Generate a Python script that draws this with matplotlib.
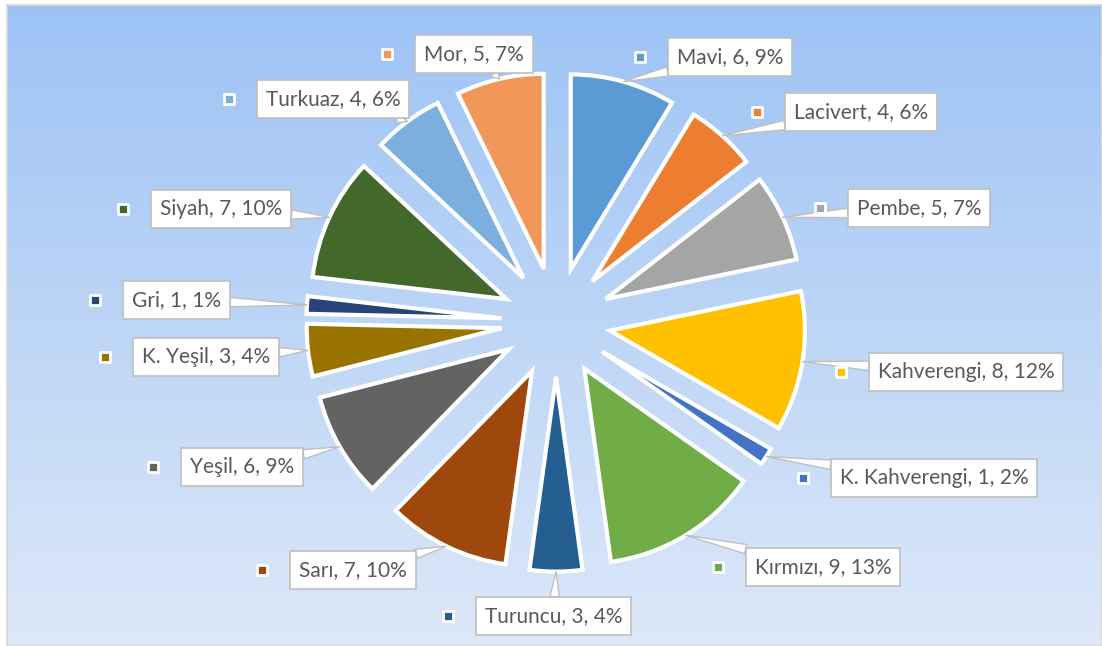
import numpy as np
import matplotlib.pyplot as plt
from matplotlib.patches import Rectangle

plt.rcParams['font.family'] = ['Lato', 'DejaVu Sans']

# Veriler
renkler = ["Mavi", "Lacivert", "Pembe", "Kahverengi", "K. Kahverengi", "Kırmızı",
           "Turuncu", "Sarı", "Yeşil", "K. Yeşil", "Gri", "Siyah", "Turkuaz", "Mor"]
degerler = [6, 4, 5, 8, 1, 9, 3, 7, 6, 3, 1, 7, 4, 5]
yuzdeler = [9, 6, 7, 12, 2, 13, 4, 10, 9, 4, 1, 10, 6, 7]
dilim_renkleri = ["#5B9BD5", "#ED7D31", "#A5A5A5", "#FFC000", "#4472C4", "#70AD47",
                  "#255E91", "#9E480E", "#636363", "#997300", "#264478", "#43682B",
                  "#7CAFDD", "#F1975A"]

# Etiket anahtar kare konumlari (piksel, sol-ust koseden)
etiket_yerleri = [(640, 57), (757, 112), (820, 208), (841, 372), (803, 478),
                  (718, 567), (448, 616), (262, 570), (153, 467), (105, 357),
                  (95, 300), (123, 209), (229, 99), (387, 54)]

W, H = 1102, 646
fig = plt.figure(figsize=(W / 100, H / 100), dpi=100)
ax = fig.add_axes([0, 0, 1, 1])

# Arka plan gradyani
ust = np.array([157, 195, 245]) / 255
alt = np.array([221, 232, 248]) / 255
t = np.linspace(0, 1, 256)[:, None, None]
img = ust + (alt - ust) * t
ax.imshow(img, extent=(7, W, 0, H - 5), aspect='auto', zorder=0)
ax.add_patch(Rectangle((7, 0), W - 7, H - 5, fill=False, ec="#d9d9d9", lw=1.5, zorder=1))

# Pasta grafigi (explode veri biriminde)
cx, cy, r = 556, H - 322, 195
wedges, _ = ax.pie(degerler, colors=dilim_renkleri, startangle=90, counterclock=False,
                   explode=[0.28 * r] * len(degerler), radius=r, center=(cx, cy),
                   wedgeprops=dict(edgecolor='white', linewidth=3))
for w in wedges:
    w.set_zorder(2)

# Etiketler
for w, ad, d, p, c, (mx, my) in zip(wedges, renkler, degerler, yuzdeler,
                                     dilim_renkleri, etiket_yerleri):
    mid = np.deg2rad((w.theta1 + w.theta2) / 2)
    ux, uy = w.center
    nokta = (ux + w.r * np.cos(mid), uy + w.r * np.sin(mid))
    ax.annotate(f"{ad}, {d}, {p}%", xy=nokta, xytext=(mx + 37, H - my),
                ha='left', va='center', fontsize=15, color='#595959',
                bbox=dict(boxstyle='square,pad=0.42', fc='white', ec='#bfbfbf', lw=1.2),
                arrowprops=dict(arrowstyle='wedge,tail_width=0.45', fc='white',
                                ec='#bfbfbf', lw=1, shrinkA=0, shrinkB=0),
                zorder=5)
    ax.scatter(mx, H - my, marker='s', s=45, color=c, edgecolor='white',
               linewidths=2, zorder=5)

ax.set_xlim(0, W)
ax.set_ylim(0, H)
ax.axis('off')

plt.savefig("out.png", dpi=100)
